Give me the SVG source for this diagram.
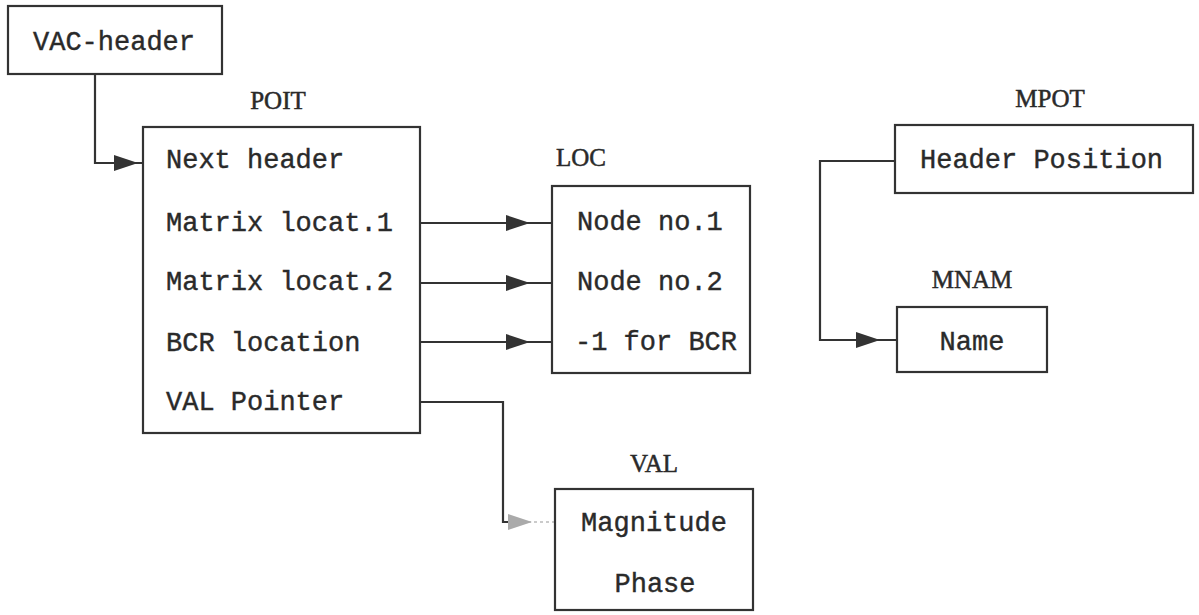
<svg xmlns="http://www.w3.org/2000/svg" xmlns:xlink="http://www.w3.org/1999/xlink" width="1199" height="615" viewBox="0 0 1199 615">
<style>
.box{fill:#fff;stroke:#333;stroke-width:2.2}
.t{font-family:"Liberation Mono","DejaVu Sans Mono",monospace;font-size:27px;fill:#2a2a2a;stroke:#2a2a2a;stroke-width:0.4}
.lbl{font-family:"Liberation Serif","DejaVu Serif",serif;font-size:25px;fill:#2a2a2a;stroke:#2a2a2a;stroke-width:0.5;text-anchor:middle}
.c{fill:none;stroke:#333;stroke-width:2.2}
.ah{fill:#333}
.faint{fill:#aaa}
</style>
<defs>
<path id="ah" d="M-24,-8 L0,0 L-24,8 Z"/>
</defs>
<rect width="1199" height="615" fill="#fff"/>
<g id="connectors">
<path class="c" d="M95,74 V163 H143"/>
<use xlink:href="#ah" href="#ah" class="ah" x="138" y="163"/>
<path class="c" d="M420,223 H552"/>
<use xlink:href="#ah" href="#ah" class="ah" x="530" y="223"/>
<path class="c" d="M420,283 H552"/>
<use xlink:href="#ah" href="#ah" class="ah" x="530" y="283"/>
<path class="c" d="M420,342 H552"/>
<use xlink:href="#ah" href="#ah" class="ah" x="530" y="342"/>
<path class="c" d="M420,402 H503 V522 H522"/>
<path d="M522,522 H555" fill="none" stroke="#bbb" stroke-width="1.5" stroke-dasharray="3,3"/>
<use xlink:href="#ah" href="#ah" class="faint" x="532" y="522"/>
<path class="c" d="M895,161 H820 V340 H897"/>
<use xlink:href="#ah" href="#ah" class="ah" x="880" y="340"/>
</g>
<g id="vac-header">
<rect class="box" x="8" y="6" width="214" height="68"/>
<text class="t" x="33" y="50">VAC-header</text>
</g>
<g id="poit">
<text class="lbl" x="278" y="109">POIT</text>
<rect class="box" x="143" y="127" width="277" height="306"/>
<text class="t" x="166" y="168">Next header</text>
<text class="t" x="166" y="231">Matrix locat.1</text>
<text class="t" x="166" y="290">Matrix locat.2</text>
<text class="t" x="166" y="351">BCR location</text>
<text class="t" x="166" y="410">VAL Pointer</text>
</g>
<g id="loc">
<text class="lbl" x="581" y="166">LOC</text>
<rect class="box" x="552" y="186" width="198" height="187"/>
<text class="t" x="577" y="230">Node no.1</text>
<text class="t" x="577" y="290">Node no.2</text>
<text class="t" x="575" y="350">-1 for BCR</text>
</g>
<g id="val">
<text class="lbl" x="654" y="472">VAL</text>
<rect class="box" x="555" y="489" width="198" height="121"/>
<text class="t" x="654" y="531" text-anchor="middle">Magnitude</text>
<text class="t" x="655" y="592" text-anchor="middle">Phase</text>
</g>
<g id="mpot">
<text class="lbl" x="1050" y="107">MPOT</text>
<rect class="box" x="895" y="125" width="298" height="68"/>
<text class="t" x="920" y="168">Header Position</text>
</g>
<g id="mnam">
<text class="lbl" x="972" y="288">MNAM</text>
<rect class="box" x="897" y="307" width="150" height="65"/>
<text class="t" x="972" y="350" text-anchor="middle">Name</text>
</g>
</svg>
